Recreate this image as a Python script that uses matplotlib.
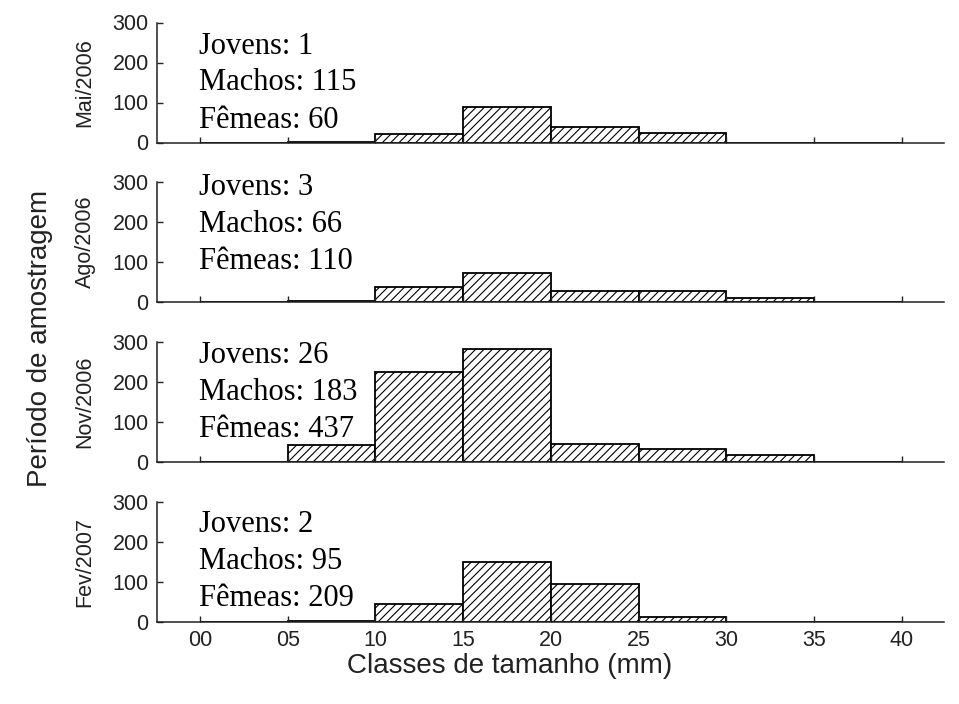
import matplotlib
matplotlib.use('Agg')
import matplotlib.pyplot as plt
import matplotlib.transforms as mtransforms

plt.rcParams['font.family'] = ['Liberation Sans', 'DejaVu Sans']
plt.rcParams['hatch.linewidth'] = 0.8

periods = ['Mai/2006', 'Ago/2006', 'Nov/2006', 'Fev/2007']
class_starts = [0, 5, 10, 15, 20, 25, 30, 35]
freq_mai06 = [0, 2, 22, 89, 38, 25, 0, 0]
freq_ago06 = [0, 3, 38, 72, 28, 28, 10, 0]
freq_nov06 = [0, 42, 226, 283, 45, 33, 17, 0]
freq_fev07 = [0, 2, 46, 150, 95, 13, 0, 0]
jovens = [1, 3, 26, 2]
machos = [115, 66, 183, 95]
femeas = [60, 110, 437, 209]
xtick_vals = [0, 5, 10, 15, 20, 25, 30, 35, 40]
xtick_labels = ['00', '05', '10', '15', '20', '25', '30', '35', '40']
ytick_vals = [0, 100, 200, 300]

freqs = [freq_mai06, freq_ago06, freq_nov06, freq_fev07]

W, H = 959, 704
fig = plt.figure(figsize=(W / 100, H / 100), dpi=100)

left, right = 157, 944
ax_h = 120
bottoms = [142.5, 302, 462, 622]      # pixel y of each x axis
text_top = [31, 13, 21, 30]            # first baseline below axis top (px)
line_gap = 37

for i, (name, vals) in enumerate(zip(periods, freqs)):
    b = bottoms[i]
    ax = fig.add_axes([left / W, 1 - b / H, (right - left) / W, ax_h / H])
    ax.bar(class_starts, vals, width=5, align='edge', facecolor='white',
           edgecolor='black', linewidth=1.3, hatch='////')
    ax.set_xlim(-2.45, 42.4)
    ax.set_ylim(0, 300)
    ax.set_xticks(xtick_vals)
    ax.set_yticks(ytick_vals)
    ax.spines['top'].set_visible(False)
    ax.spines['right'].set_visible(False)
    for s in ['left', 'bottom']:
        ax.spines[s].set_linewidth(1.1)
        ax.spines[s].set_color('#222222')
    ax.tick_params(direction='in', length=4, width=1, labelsize=15.5,
                   pad=6, colors='#222222')
    if i < 3:
        ax.set_xticklabels([])
    else:
        ax.set_xticklabels(xtick_labels)

    trans = mtransforms.blended_transform_factory(ax.transData, ax.transAxes)
    lines = ['Jovens: %d' % jovens[i], 'Machos: %d' % machos[i],
             'Fêmeas: %d' % femeas[i]]
    for k, t in enumerate(lines):
        d = text_top[i] + k * line_gap
        ax.text(-0.05, 1 - d / ax_h, t, transform=trans, ha='left',
                va='baseline', fontsize=22, family=['Liberation Serif'])

    fig.text(85 / W, 1 - (b - ax_h / 2) / H, name, rotation=90,
             ha='center', va='center', fontsize=15.5, color='#222222')

fig.text(40 / W, 1 - 338 / H, 'Período de amostragem', rotation=90,
         ha='center', va='center', fontsize=20, color='#222222')
fig.text(510 / W, 1 - 666 / H, 'Classes de tamanho (mm)',
         ha='center', va='center', fontsize=20, color='#222222')

fig.savefig('out.png', dpi=100)
